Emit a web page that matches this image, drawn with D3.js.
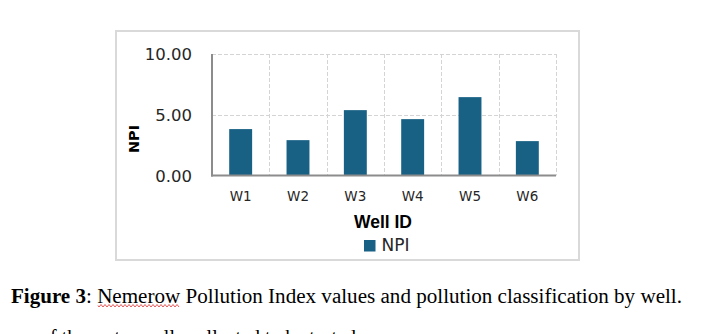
<!DOCTYPE html>
<html>
<head>
<meta charset="utf-8">
<script src="https://cdn.jsdelivr.net/npm/d3@7"></script>
<style>
  html, body { margin: 0; padding: 0; background: #fff; }
  svg { display: block; }
</style>
</head>
<body>
<svg id="chart" width="703" height="334"></svg>
<script>
const wells = ['W1', 'W2', 'W3', 'W4', 'W5', 'W6'];
const npi = [3.82, 2.91, 5.38, 4.64, 6.45, 2.83];
const yTicks = [0, 5, 10];
const seriesName = 'NPI';

const svg = d3.select('#chart');

// chart frame
svg.append('rect')
  .attr('x', 116).attr('y', 31).attr('width', 463).attr('height', 229)
  .attr('fill', '#fff').attr('stroke', '#d9d9d9').attr('stroke-width', 2);

const plot = { left: 212, right: 556, top: 54, bottom: 175.5 };

const x = d3.scaleBand().domain(wells)
  .range([plot.left, plot.right]).paddingInner(0.6).paddingOuter(0.3);
const y = d3.scaleLinear().domain([0, 10]).range([plot.bottom, plot.top]);

const grid = svg.append('g').attr('stroke', '#d4d4d4').attr('stroke-width', 1)
  .attr('stroke-dasharray', '4,2').attr('fill', 'none');

// horizontal gridlines
grid.selectAll('line.h').data(yTicks.filter(d => d > 0)).enter().append('line')
  .attr('x1', plot.left).attr('x2', plot.right)
  .attr('y1', d => Math.round(y(d)) + 0.5).attr('y2', d => Math.round(y(d)) + 0.5);

// vertical gridlines at category boundaries
const step = x.step();
const bounds = wells.map((w, i) => plot.left + step * (i + 1));
grid.selectAll('line.v').data(bounds).enter().append('line')
  .attr('x1', d => Math.round(d) + 0.5).attr('x2', d => Math.round(d) + 0.5)
  .attr('y1', plot.top).attr('y2', plot.bottom);

// bars
svg.append('g').selectAll('rect').data(npi).enter().append('rect')
  .attr('x', (d, i) => x(wells[i]))
  .attr('width', x.bandwidth())
  .attr('y', d => y(d))
  .attr('height', d => y(0) - y(d))
  .attr('fill', '#186184');

// axes lines
svg.append('line')
  .attr('x1', plot.left).attr('x2', plot.left)
  .attr('y1', plot.top).attr('y2', plot.bottom + 1)
  .attr('stroke', '#8c8c8c').attr('stroke-width', 2);
svg.append('line')
  .attr('x1', plot.left - 1).attr('x2', plot.right)
  .attr('y1', plot.bottom).attr('y2', plot.bottom)
  .attr('stroke', '#8c8c8c').attr('stroke-width', 2);

// y tick labels
const yAxis = d3.axisLeft(y).tickValues(yTicks).tickFormat(d3.format('.2f')).tickSize(0).tickPadding(20);
const yg = svg.append('g').attr('transform', `translate(${plot.left},0)`).call(yAxis);
yg.select('.domain').remove();
yg.selectAll('text')
  .attr('font-family', 'DejaVu Sans, sans-serif').attr('font-size', 16.5)
  .attr('fill', '#262626').attr('dy', '0.36em');

// x tick labels
const xAxis = d3.axisBottom(x).tickSize(0).tickPadding(16);
const xg = svg.append('g').attr('transform', `translate(0,${plot.bottom})`).call(xAxis);
xg.select('.domain').remove();
xg.selectAll('text')
  .attr('font-family', 'DejaVu Sans, sans-serif').attr('font-size', 13.5)
  .attr('fill', '#262626');

// axis titles
svg.append('text')
  .attr('transform', 'translate(139,139) rotate(-90)')
  .attr('text-anchor', 'middle')
  .attr('font-family', 'DejaVu Sans, sans-serif').attr('font-weight', 'bold')
  .attr('font-size', 14.5).attr('fill', '#000')
  .text('NPI');

svg.append('text')
  .attr('x', 383).attr('y', 227.5)
  .attr('text-anchor', 'middle')
  .attr('font-family', 'Liberation Sans, Arial, sans-serif').attr('font-weight', 'bold')
  .attr('font-size', 17.5).attr('fill', '#000')
  .text('Well ID');

// legend
svg.append('rect').attr('x', 364).attr('y', 240).attr('width', 11.5).attr('height', 11.5)
  .attr('fill', '#186184');
svg.append('text')
  .attr('x', 381.5).attr('y', 251)
  .attr('font-family', 'DejaVu Sans, sans-serif').attr('font-size', 17)
  .attr('fill', '#262626')
  .text(seriesName);

// caption
svg.append('text')
  .attr('x', 11).attr('y', 302.5)
  .attr('font-family', 'Liberation Serif, Times New Roman, serif')
  .attr('font-size', 20).attr('font-weight', 'bold').attr('fill', '#000')
  .attr('textLength', 75).attr('lengthAdjust', 'spacingAndGlyphs')
  .text('Figure 3');
svg.append('text')
  .attr('x', 86).attr('y', 302.5)
  .attr('font-family', 'Liberation Serif, Times New Roman, serif')
  .attr('font-size', 20).attr('fill', '#000')
  .attr('textLength', 596).attr('lengthAdjust', 'spacingAndGlyphs')
  .text(': Nemerow Pollution Index values and pollution classification by well.');

// spell-check squiggle under "Nemerow"
const sq = d3.path();
sq.moveTo(98, 305.5);
for (let px = 98; px < 180; px += 2) {
  sq.lineTo(px + 1, (px / 2) % 2 === 1 ? 307 : 304.5);
}
svg.append('path').attr('d', sq.toString())
  .attr('fill', 'none').attr('stroke', '#e03030').attr('stroke-width', 0.8);

// next line of body text, clipped by the page edge
svg.append('text')
  .attr('x', 40).attr('y', 344)
  .attr('font-family', 'Liberation Serif, Times New Roman, serif')
  .attr('font-size', 20).attr('fill', '#000')
  .text('of the water wells collected to be tested.');
</script>
</body>
</html>
